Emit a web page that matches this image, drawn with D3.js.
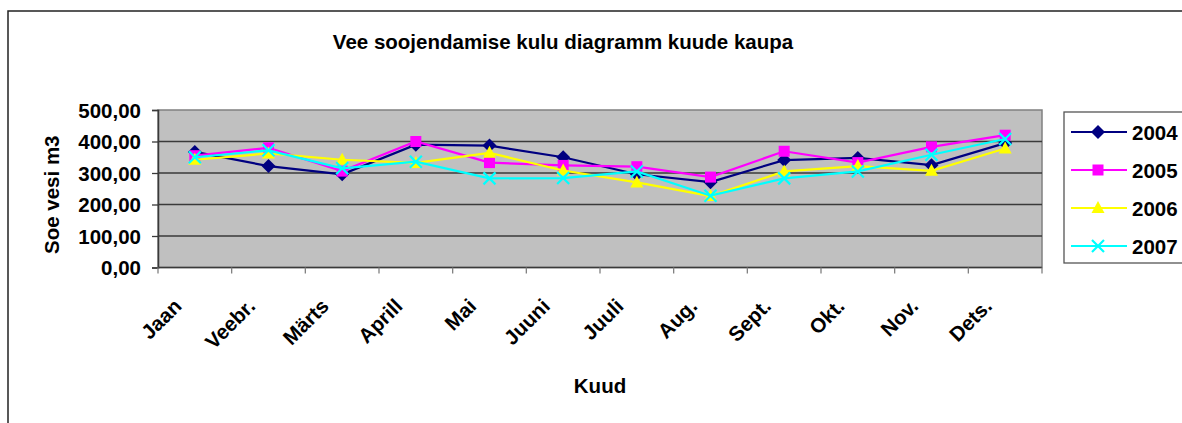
<!DOCTYPE html>
<html>
<head>
<meta charset="utf-8">
<script src="https://cdn.jsdelivr.net/npm/d3@7"></script>
<style>
  body { margin: 0; background: #fff; }
  text { font-family: Arial, "Liberation Sans", sans-serif; font-weight: bold; }
</style>
</head>
<body>
<div id="chart-area"></div>
<script>
// data
const months = ["Jaan", "Veebr.", "Märts", "Aprill", "Mai", "Juuni", "Juuli", "Aug.", "Sept.", "Okt.", "Nov.", "Dets."]
const years = ["2004", "2005", "2006", "2007"]
const v2004 = [367, 322, 296, 390, 387, 350, 296, 271, 341, 348, 325, 395]
const v2005 = [355, 380, 306, 400, 333, 324, 320, 287, 369, 333, 383, 420]
const v2006 = [342, 362, 342, 332, 364, 308, 270, 227, 305, 322, 307, 378]
const v2007 = [350, 372, 315, 336, 283, 284, 305, 228, 283, 305, 358, 408]
const yTicks = [0, 100, 200, 300, 400, 500]

const series = [
  { name: years[0], values: v2004, color: "#000080", shape: "diamond" },
  { name: years[1], values: v2005, color: "#FF00FF", shape: "square" },
  { name: years[2], values: v2006, color: "#FFFF00", shape: "triangle" },
  { name: years[3], values: v2007, color: "#00FFFF", shape: "cross" }
]

const W = 1182, H = 423
const PLOT = { LEFT: 158, RIGHT: 1042, TOP: 110, BOTTOM: 267.5 }
const FS = "20.5px"

const svg = d3.select("#chart-area").append("svg")
  .attr("width", W)
  .attr("height", H)

// outer chart frame (runs off the right and bottom edge)
svg.append("rect")
  .attr("x", 8).attr("y", 11)
  .attr("width", W + 20).attr("height", H + 20)
  .attr("fill", "#fff")
  .attr("stroke", "#222")
  .attr("stroke-width", 1.5)

const x = d3.scaleBand()
  .domain(months)
  .range([PLOT.LEFT, PLOT.RIGHT])
  .padding(0)

const y = d3.scaleLinear()
  .domain([0, 500])
  .range([PLOT.BOTTOM, PLOT.TOP])

const cx = m => x(m) + x.bandwidth() / 2

// plot background
svg.append("rect")
  .attr("x", PLOT.LEFT).attr("y", PLOT.TOP)
  .attr("width", PLOT.RIGHT - PLOT.LEFT)
  .attr("height", PLOT.BOTTOM - PLOT.TOP)
  .attr("fill", "#C0C0C0")
  .attr("stroke", "#808080")
  .attr("stroke-width", 1.5)

// gridlines
svg.append("g")
  .selectAll("line")
  .data(yTicks.slice(1, -1))
  .join("line")
  .attr("x1", PLOT.LEFT).attr("x2", PLOT.RIGHT)
  .attr("y1", d => y(d)).attr("y2", d => y(d))
  .attr("stroke", "#3a3a3a")
  .attr("stroke-width", 1.3)

const locale = d3.formatLocale({ decimal: ",", thousands: " ", grouping: [3], currency: ["", ""] })
const fmt = locale.format(".2f")

// y axis
const yAxis = d3.axisLeft(y)
  .tickValues(yTicks)
  .tickFormat(fmt)
  .tickSize(6)
  .tickPadding(11)

const yAxisGroup = svg.append("g")
  .attr("transform", `translate(${PLOT.LEFT},0)`)
  .call(yAxis)
yAxisGroup.select(".domain").attr("stroke", "#3a3a3a").attr("stroke-width", 1.5)
yAxisGroup.selectAll(".tick line").attr("stroke", "#3a3a3a").attr("stroke-width", 1.3)
yAxisGroup.selectAll(".tick text")
  .attr("fill", "#000")
  .attr("dy", "0.36em")
  .style("font-size", FS)
  .style("font-family", "Arial, 'Liberation Sans', sans-serif")
  .style("font-weight", "bold")

// x axis: ticks between categories
const xAxisGroup = svg.append("g")
  .attr("transform", `translate(0,${PLOT.BOTTOM})`)
xAxisGroup.append("line")
  .attr("x1", PLOT.LEFT).attr("x2", PLOT.RIGHT)
  .attr("stroke", "#3a3a3a").attr("stroke-width", 1.5)
xAxisGroup.selectAll("line.tk")
  .data(months.concat(["end"]))
  .join("line")
  .attr("class", "tk")
  .attr("x1", (d, i) => i < months.length ? x(d) : PLOT.RIGHT)
  .attr("x2", (d, i) => i < months.length ? x(d) : PLOT.RIGHT)
  .attr("y1", 0).attr("y2", 6)
  .attr("stroke", "#808080").attr("stroke-width", 1.3)

svg.append("g")
  .selectAll("text")
  .data(months)
  .join("text")
  .attr("transform", d => `translate(${cx(d) - 12},${PLOT.BOTTOM + 40}) rotate(-45)`)
  .attr("text-anchor", "end")
  .style("font-size", FS)
  .text(d => d)

// titles
svg.append("text")
  .attr("x", 563).attr("y", 49)
  .attr("text-anchor", "middle")
  .style("font-size", FS)
  .text("Vee soojendamise kulu diagramm kuude kaupa")

svg.append("text")
  .attr("x", 600).attr("y", 393)
  .attr("text-anchor", "middle")
  .style("font-size", FS)
  .text("Kuud")

svg.append("text")
  .attr("transform", `translate(59,${(PLOT.TOP + PLOT.BOTTOM) / 2 + 6}) rotate(-90)`)
  .attr("text-anchor", "middle")
  .style("font-size", FS)
  .text("Soe vesi m3")

// markers
function drawMarker(g, shape, color) {
  if (shape === "diamond") {
    g.append("path").attr("d", "M0,-7L7,0L0,7L-7,0Z").attr("fill", color)
  } else if (shape === "square") {
    g.append("rect").attr("x", -5.5).attr("y", -5.5).attr("width", 11).attr("height", 11).attr("fill", color)
  } else if (shape === "triangle") {
    g.append("path").attr("d", "M0,-7L6.5,5L-6.5,5Z").attr("fill", color)
  } else {
    g.append("path").attr("d", "M-6,-6L6,6M6,-6L-6,6")
      .attr("stroke", color).attr("stroke-width", 2.2).attr("fill", "none")
  }
}

const line = d3.line()
  .x((d, i) => cx(months[i]))
  .y(d => y(d))

series.forEach(s => {
  const g = svg.append("g")
  g.append("path")
    .datum(s.values)
    .attr("d", line)
    .attr("fill", "none")
    .attr("stroke", s.color)
    .attr("stroke-width", 2.2)
  s.values.forEach((v, i) => {
    const m = g.append("g").attr("transform", `translate(${cx(months[i])},${y(v)})`)
    drawMarker(m, s.shape, s.color)
  })
})

// legend
const legend = svg.append("g")
legend.append("rect")
  .attr("x", 1064).attr("y", 112)
  .attr("width", 140).attr("height", 151)
  .attr("fill", "#fff")
  .attr("stroke", "#555")
  .attr("stroke-width", 1.3)

series.forEach((s, i) => {
  const ly = 132 + i * 38
  const row = legend.append("g")
  row.append("line")
    .attr("x1", 1071).attr("x2", 1127)
    .attr("y1", ly).attr("y2", ly)
    .attr("stroke", s.color).attr("stroke-width", 2.2)
  const m = row.append("g").attr("transform", `translate(1098,${ly})`)
  drawMarker(m, s.shape, s.color)
  row.append("text")
    .attr("x", 1132).attr("y", ly + 7.5)
    .style("font-size", FS)
    .text(s.name)
})
</script>
</body>
</html>
